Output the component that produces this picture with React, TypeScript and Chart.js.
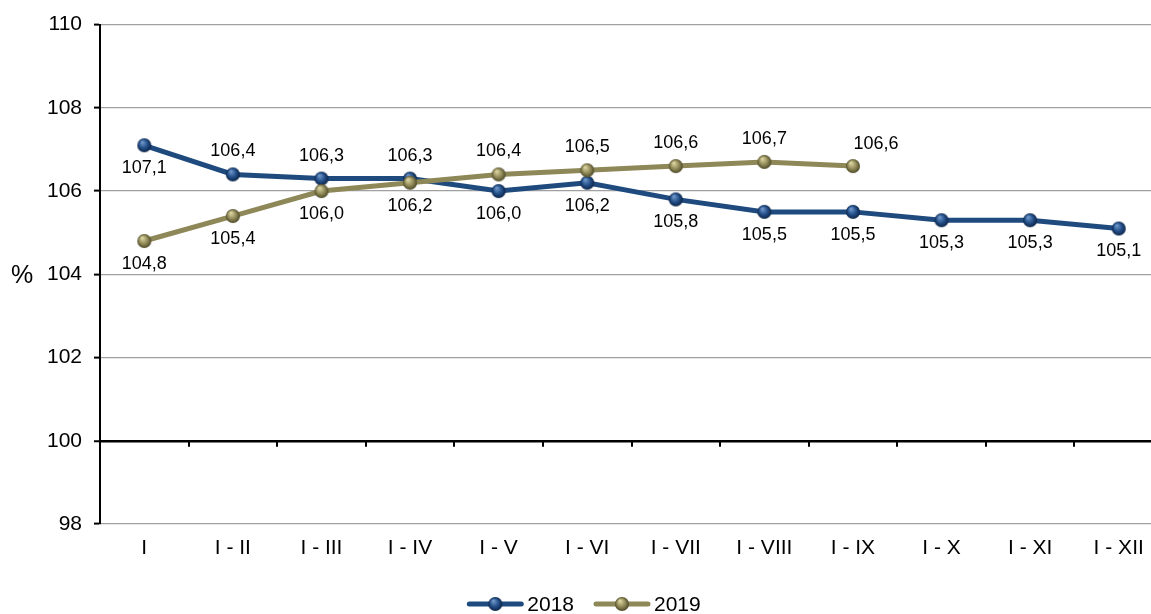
import React, { useEffect, useRef } from 'react';
import { Chart, registerables } from 'chart.js';

Chart.register(...registerables);

const categories = ['I', 'I - II', 'I - III', 'I - IV', 'I - V', 'I - VI', 'I - VII', 'I - VIII', 'I - IX', 'I - X', 'I - XI', 'I - XII'];
const values2018 = [107.1, 106.4, 106.3, 106.3, 106.0, 106.2, 105.8, 105.5, 105.5, 105.3, 105.3, 105.1];
const values2019 = [104.8, 105.4, 106.0, 106.2, 106.4, 106.5, 106.6, 106.7, 106.6];
const seriesNames = ['2018', '2019'];
const yMin = 98;
const yMax = 110;
const yStep = 2;
const axisCrossValue = 100;
const yUnit = '%';
const placement2018 = ['below', 'above', 'above', 'above', 'below', 'below', 'below', 'below', 'below', 'below', 'below', 'below'];
const placement2019 = ['below', 'below', 'below', 'below', 'above', 'above', 'above', 'above', 'right'];

const FONT = '"Liberation Sans", Arial, sans-serif';
const COLOR_2018 = '#1F4A7E';
const COLOR_2019 = '#8E8757';

function makeSphere(light: string, mid: string, dark: string, r = 7) {
  const size = r * 2 + 2;
  const c = document.createElement('canvas');
  c.width = size;
  c.height = size;
  const ctx = c.getContext('2d')!;
  const cx = size / 2;
  const cy = size / 2;
  const g = ctx.createRadialGradient(cx - r * 0.3, cy - r * 0.45, r * 0.1, cx, cy, r);
  g.addColorStop(0, light);
  g.addColorStop(0.55, mid);
  g.addColorStop(1, dark);
  ctx.fillStyle = g;
  ctx.beginPath();
  ctx.arc(cx, cy, r, 0, Math.PI * 2);
  ctx.fill();
  return c;
}

const fmt = (v: number) => v.toFixed(1).replace('.', ',');

export default function App() {
  const ref = useRef<HTMLCanvasElement>(null);

  useEffect(() => {
    if (!ref.current) return;
    const sphere2018 = makeSphere('#6D95C8', '#24508A', '#0C2447');
    const sphere2019 = makeSphere('#D8D2A0', '#938C5A', '#4E4A28');
    const spheres = [sphere2018, sphere2019];
    const colors = [COLOR_2018, COLOR_2019];
    const placements = [placement2018, placement2019];

    const decor = {
      id: 'decor',
      beforeDatasetsDraw(chart: any) {
        const ctx = chart.ctx;
        const x = chart.scales.x;
        const y = chart.scales.y;
        const py = y.getPixelForValue(axisCrossValue);
        ctx.save();
        ctx.strokeStyle = '#000';
        ctx.lineWidth = 2;
        ctx.beginPath();
        for (let i = 1; i < categories.length; i++) {
          const px = Math.round((x.getPixelForValue(i - 1) + x.getPixelForValue(i)) / 2);
          ctx.moveTo(px, py);
          ctx.lineTo(px, py + 6);
        }
        ctx.stroke();
        ctx.restore();
      },
      afterDatasetsDraw(chart: any) {
        const ctx = chart.ctx;
        ctx.save();
        ctx.font = `18px ${FONT}`;
        ctx.fillStyle = '#000';
        ctx.textAlign = 'center';
        ctx.textBaseline = 'middle';
        chart.data.datasets.forEach((ds: any, di: number) => {
          const meta = chart.getDatasetMeta(di);
          meta.data.forEach((pt: any, i: number) => {
            const v = ds.data[i];
            if (v == null) return;
            const p = placements[di][i];
            let dx = 0;
            let dy = 23;
            if (p === 'above') dy = -23;
            if (p === 'right') { dx = 23; dy = -22; }
            ctx.fillText(fmt(v), pt.x + dx, pt.y + dy);
          });
        });
        ctx.restore();
      },
      afterDraw(chart: any) {
        const ctx = chart.ctx;
        const area = chart.chartArea;
        ctx.save();
        ctx.font = `25px ${FONT}`;
        ctx.fillStyle = '#000';
        ctx.textAlign = 'center';
        ctx.textBaseline = 'middle';
        ctx.fillText(yUnit, 22, (area.top + area.bottom) / 2 + 2);
        ctx.font = `21px ${FONT}`;
        ctx.textAlign = 'left';
        const lineLen = 56;
        const gapText = 4;
        const gapItems = 20;
        const widths = seriesNames.map((n) => lineLen + gapText + ctx.measureText(n).width);
        const total = widths.reduce((a, b) => a + b, 0) + gapItems * (seriesNames.length - 1);
        let sx = 584 - total / 2;
        const ly = 604;
        seriesNames.forEach((n, i) => {
          ctx.strokeStyle = colors[i];
          ctx.lineWidth = 5;
          ctx.lineCap = 'round';
          ctx.beginPath();
          ctx.moveTo(sx + 2, ly);
          ctx.lineTo(sx + lineLen - 2, ly);
          ctx.stroke();
          const s = spheres[i];
          ctx.drawImage(s, sx + lineLen / 2 - s.width / 2, ly - s.height / 2);
          ctx.fillStyle = '#000';
          ctx.fillText(n, sx + lineLen + gapText, ly + 1);
          sx += widths[i] + gapItems;
        });
        ctx.restore();
      },
    };

    const chart = new Chart(ref.current, {
      type: 'line',
      data: {
        labels: categories,
        datasets: [
          {
            label: seriesNames[0],
            data: values2018,
            borderColor: COLOR_2018,
            backgroundColor: COLOR_2018,
            borderWidth: 5,
            pointStyle: sphere2018 as any,
            pointRadius: 7,
            tension: 0,
            order: 1,
          },
          {
            label: seriesNames[1],
            data: values2019,
            borderColor: COLOR_2019,
            backgroundColor: COLOR_2019,
            borderWidth: 5,
            pointStyle: sphere2019 as any,
            pointRadius: 7,
            tension: 0,
            order: 0,
          },
        ],
      },
      options: {
        responsive: false,
        animation: false,
        layout: { autoPadding: false, padding: { top: 24, left: 0, right: 0, bottom: 0 } },
        plugins: {
          legend: { display: false },
          tooltip: { enabled: false },
        },
        scales: {
          x: {
            type: 'category',
            offset: true,
            grid: { display: false, drawTicks: false },
            border: { display: false },
            ticks: {
              color: '#000',
              font: { family: FONT, size: 21 },
              padding: 12,
              maxRotation: 0,
              autoSkip: false,
            },
            afterFit: (s: any) => {
              s.height = 90;
            },
          },
          y: {
            min: yMin,
            max: yMax,
            ticks: {
              stepSize: yStep,
              color: '#000',
              font: { family: FONT, size: 21 },
              padding: 12,
              callback: (v: any) => String(v),
            },
            grid: {
              color: (c: any) => (c.tick && c.tick.value === axisCrossValue ? '#000' : '#A0A0A0'),
              lineWidth: (c: any) => (c.tick && c.tick.value === axisCrossValue ? 2.5 : 1.2),
              tickColor: '#000',
              tickLength: 6,
              tickWidth: 2,
              drawTicks: true,
            },
            border: { display: true, color: '#000', width: 2 },
            afterFit: (s: any) => {
              s.width = 100;
            },
          },
        },
      },
      plugins: [decor],
    });

    return () => chart.destroy();
  }, []);

  return (
    <div style={{ position: 'fixed', left: 0, top: 0, width: 1163, height: 614, background: '#fff', overflow: 'hidden' }}>
      <canvas ref={ref} width={1163} height={614} style={{ display: 'block' }} />
    </div>
  );
}
